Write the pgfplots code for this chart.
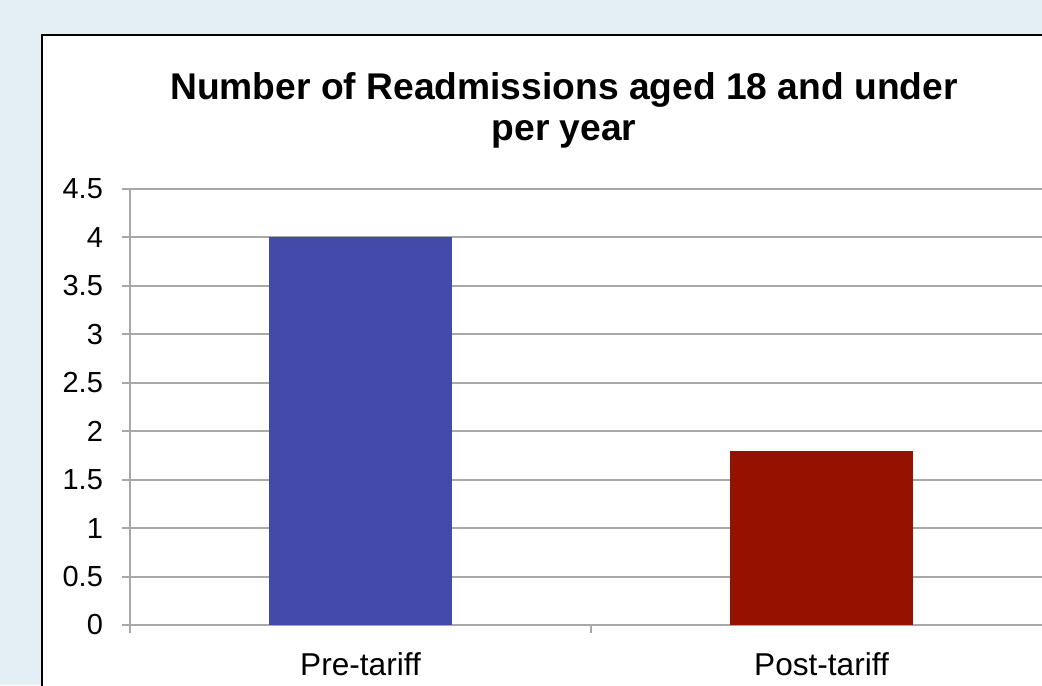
\documentclass[border=0pt]{standalone}
\usepackage{pgfplots}
\pgfplotsset{compat=1.18}
\usepackage{fontspec}
\setmainfont{Liberation Sans}
\definecolor{bgblue}{HTML}{E3EEF5}
\definecolor{gridgray}{HTML}{A8A8A8}
\definecolor{barblue}{HTML}{434AA9}
\definecolor{barred}{HTML}{951200}

\begin{document}
\begin{tikzpicture}
    % 1 px of the reference = 0.5pt
    \path[use as bounding box, clip] (0,0) rectangle (521pt,342.5pt);
    \fill[bgblue] (0,0) rectangle (521pt,342.5pt);
    \filldraw[fill=white, draw=black, line width=1.4pt] (21pt,-10pt) rectangle (560pt,325pt);

    \node[align=center, anchor=north, font=\fontsize{18.6}{20.5}\selectfont\bfseries]
        at (282pt,310pt) {Number of Readmissions aged 18 and under\\per year};

    \begin{axis}[
            at={(65pt,30pt)},
            anchor=south west,
            scale only axis,
            width=461pt,
            height=218pt,
            xmin=-0.5, xmax=1.5,
            ymin=0, ymax=4.5,
            ytick={0,0.5,...,4.5},
            xtick={-0.5,0.5,1.5},
            xticklabels={Pre-tariff,Post-tariff},
            x tick label as interval,
            axis x line*=bottom,
            axis y line*=left,
            axis line style={gridgray, line width=1pt, -},
            ymajorgrids,
            major grid style={gridgray, line width=1pt},
            tick style={gridgray, line width=1pt},
            tick align=outside,
            major tick length=4pt,
            yticklabel style={font=\fontsize{14.5}{17}\selectfont,
                /pgf/number format/assume math mode=true,
                /pgf/number format/fixed, xshift=-6pt},
            xticklabel style={font=\fontsize{15.8}{18}\selectfont, yshift=-6.5pt},
            ybar,
            bar width=91.5pt,
            bar shift=0pt,
        ]
        \addplot[fill=barblue, draw=none] coordinates {(0,4)};
        \addplot[fill=barred, draw=none] coordinates {(1,1.8)};
    \end{axis}
\end{tikzpicture}
\end{document}
